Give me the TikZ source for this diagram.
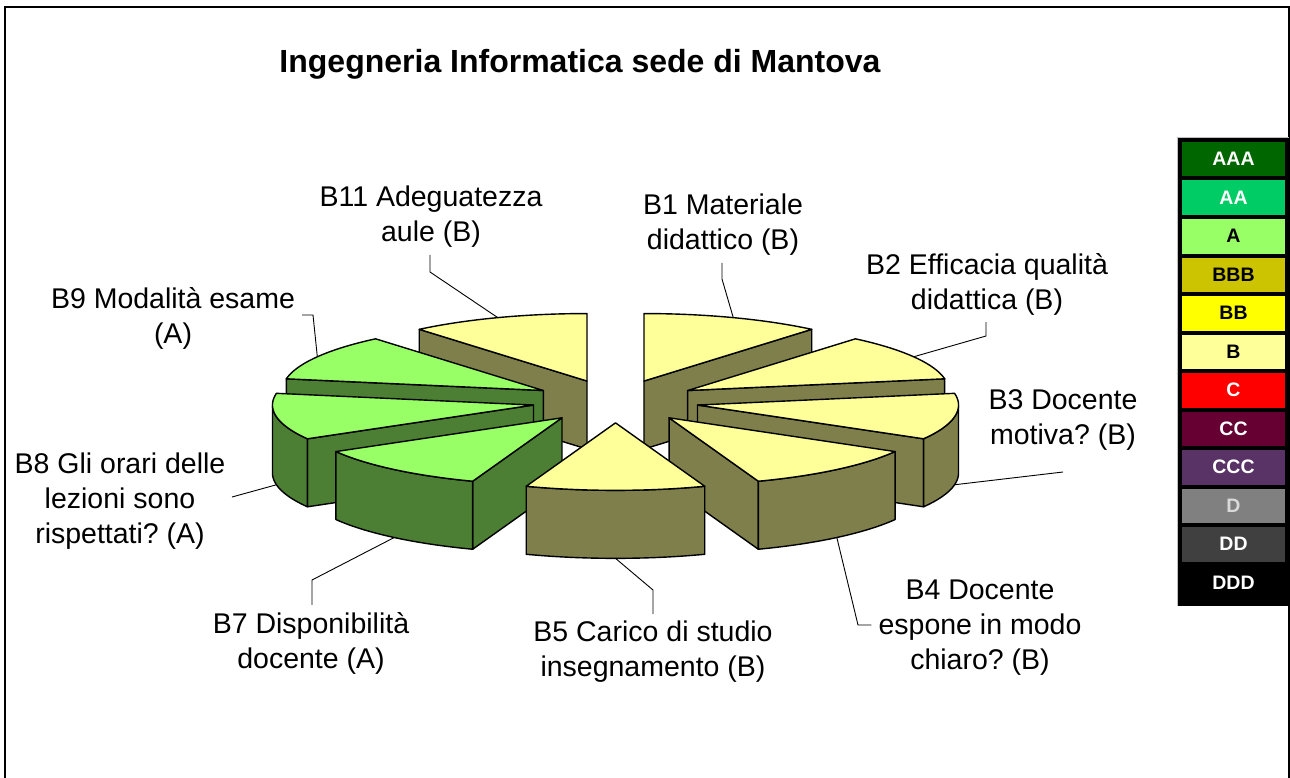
\documentclass[tikz,border=0pt]{standalone}
\usepackage{fontspec}
\setmainfont{Liberation Sans}
\usetikzlibrary{positioning}
\frenchspacing

\definecolor{topB}{HTML}{FFFF99}
\definecolor{sideB}{HTML}{7F7F4C}
\definecolor{topA}{HTML}{99FF66}
\definecolor{sideA}{HTML}{4C7F33}
\definecolor{cAAA}{HTML}{006600}
\definecolor{cAA}{HTML}{00CC66}
\definecolor{cA}{HTML}{99FF66}
\definecolor{cBBB}{HTML}{CCC400}
\definecolor{cBB}{HTML}{FFFF00}
\definecolor{cB}{HTML}{FFFF99}
\definecolor{cC}{HTML}{FF0000}
\definecolor{cCC}{HTML}{660033}
\definecolor{cCCC}{HTML}{5A3366}
\definecolor{cD}{HTML}{808080}
\definecolor{cDD}{HTML}{404040}
\definecolor{cDDD}{HTML}{000000}

\newcommand{\piex}{261}
\newcommand{\piey}{67.5}
\newcommand{\pieh}{68}
% faces of one slice, apex at (0,0)
\newcommand{\slicetop}[3]{\filldraw[face,fill=#3] (0,0) -- plot[domain=#1:#2,samples=30] ({\piex*sin(\x)},{-\piey*cos(\x)}) -- cycle;}
\newcommand{\sliceside}[2]{\filldraw[face,fill=#2] (0,0) -- ({\piex*sin(#1)},{-\piey*cos(#1)}) -- ({\piex*sin(#1)},{\pieh-\piey*cos(#1)}) -- (0,\pieh) -- cycle;}
\newcommand{\slicerim}[3]{\filldraw[face,fill=#3] plot[domain=#1:#2,samples=30] ({\piex*sin(\x)},{-\piey*cos(\x)}) -- plot[domain=#2:#1,samples=30] ({\piex*sin(\x)},{\pieh-\piey*cos(\x)}) -- cycle;}

\begin{document}
\begin{tikzpicture}[x=1pt,y=-1pt,
    face/.style={draw=black,line width=1.4pt,line join=round},
    leader/.style={draw=black,line width=0.9pt},
    lbl/.style={align=center,font=\fontsize{28.5}{35}\selectfont,inner sep=7pt},
    legbox/.style={minimum width=103pt,minimum height=34.5pt,inner sep=0pt,font=\fontsize{19.5}{19.5}\bfseries\selectfont}]
\useasboundingbox (0,0) rectangle (1290,778);
\draw[line width=2.5pt] (5,778) -- (5,7) -- (1289,7) -- (1289,778);

\node[font=\fontsize{32}{32}\bfseries\selectfont,anchor=base] (title) at (580,73) {Ingegneria Informatica sede di Mantova};

% apex of every exploded slice
\foreach \n/\m in {1/20,2/60,3/100,4/140,5/180,7/220,8/260,9/300,11/340}
  \coordinate (o\n) at ({615.5+83.3*sin(\m)},{401.3-21.55*cos(\m)});

% back to front
\begin{scope}[shift={(o1)}]
  \sliceside{40}{sideB} \slicetop{0}{40}{topB}
  \coordinate (s1) at ({\piex*sin(20)},{-\piey*cos(20)});
\end{scope}
\begin{scope}[shift={(o11)}]
  \sliceside{320}{sideB} \slicetop{320}{360}{topB}
  \coordinate (s11) at ({\piex*sin(340)},{-\piey*cos(340)});
\end{scope}
\begin{scope}[shift={(o2)}]
  \sliceside{80}{sideB} \slicetop{40}{80}{topB}
  \coordinate (s2) at ({\piex*sin(60)},{-\piey*cos(60)});
\end{scope}
\begin{scope}[shift={(o9)}]
  \sliceside{280}{sideA} \slicetop{280}{320}{topA}
  \coordinate (s9) at ({\piex*sin(300)},{-\piey*cos(300)});
\end{scope}
\begin{scope}[shift={(o3)}]
  \sliceside{120}{sideB} \slicerim{90}{120}{sideB} \slicetop{80}{120}{topB}
  \coordinate (s3) at ({\piex*sin(100)},{\pieh-\piey*cos(100)});
\end{scope}
\begin{scope}[shift={(o8)}]
  \sliceside{240}{sideA} \slicerim{240}{270}{sideA} \slicetop{240}{280}{topA}
  \coordinate (s8) at ({\piex*sin(260)},{\pieh-\piey*cos(260)});
\end{scope}
\begin{scope}[shift={(o4)}]
  \sliceside{160}{sideB} \slicerim{120}{160}{sideB} \slicetop{120}{160}{topB}
  \coordinate (s4) at ({\piex*sin(140)},{\pieh-\piey*cos(140)});
\end{scope}
\begin{scope}[shift={(o7)}]
  \sliceside{200}{sideA} \slicerim{200}{240}{sideA} \slicetop{200}{240}{topA}
  \coordinate (s7) at ({\piex*sin(220)},{\pieh-\piey*cos(220)});
\end{scope}
\begin{scope}[shift={(o5)}]
  \slicerim{160}{200}{sideB} \slicetop{160}{200}{topB}
  \coordinate (s5) at ({\piex*sin(180)},{\pieh-\piey*cos(180)});
\end{scope}

% labels
\node[lbl] (lb11) at (431,217) {B11 Adeguatezza\\aule (B)};
\node[lbl] (lb1) at (723,225) {B1 Materiale\\didattico (B)};
\node[lbl] (lb2) at (987,284) {B2 Efficacia qualità\\didattica (B)};
\node[lbl] (lb3) at (1063,420) {B3 Docente\\motiva? (B)};
\node[lbl] (lb4) at (980,628) {B4 Docente\\espone in modo\\chiaro? (B)};
\node[lbl] (lb5) at (653,652) {B5 Carico di studio\\insegnamento (B)};
\node[lbl] (lb7) at (311,643) {B7 Disponibilità\\docente (A)};
\node[lbl] (lb8) at (120,501) {B8 Gli orari delle\\lezioni sono\\rispettati? (A)};
\node[lbl] (lb9) at (173,318) {B9 Modalità esame\\(A)};

\coordinate (k11) at (430,272);
\draw[leader] (s11) -- (k11) -- (k11 |- lb11.south);
\coordinate (k1) at (722,279);
\draw[leader] (s1) -- (k1) -- (k1 |- lb1.south);
\coordinate (k2) at (986,336);
\draw[leader] (s2) -- (k2) -- (k2 |- lb2.south);
\coordinate (k3) at (1063,472);
\draw[leader] (s3) -- (k3);
\coordinate (k4) at (858,625);
\draw[leader] (s4) -- (k4) -- (lb4.west |- k4);
\coordinate (k5) at (653,590);
\draw[leader] (s5) -- (k5) -- (k5 |- lb5.north);
\coordinate (k7) at (312,580);
\draw[leader] (s7) -- (k7) -- (k7 |- lb7.north);
\coordinate (k8) at (232,497);
\draw[leader] (s8) -- (k8);
\coordinate (k9) at (313,315);
\draw[leader] (s9) -- (k9) -- (lb9.east |- k9);

% legend
\fill[black] (1177,138) rectangle (1289,606);
\draw[gray!50,line width=1pt] (1177,606) -- (1177,138) -- (1289,138);
\foreach \t/\c/\f [count=\i] in {AAA/cAAA/white,AA/cAA/white,A/cA/black,BBB/cBBB/black,BB/cBB/black,B/cB/black,C/cC/white,CC/cCC/white,CCC/cCCC/white,D/cD/white!85!black,DD/cDD/white,DDD/cDDD/white}
  \node[legbox,fill=\c,text=\f] (leg\i) at (1233.5,{159.25+(\i-1)*38.5}) {\t};
\end{tikzpicture}
\end{document}
